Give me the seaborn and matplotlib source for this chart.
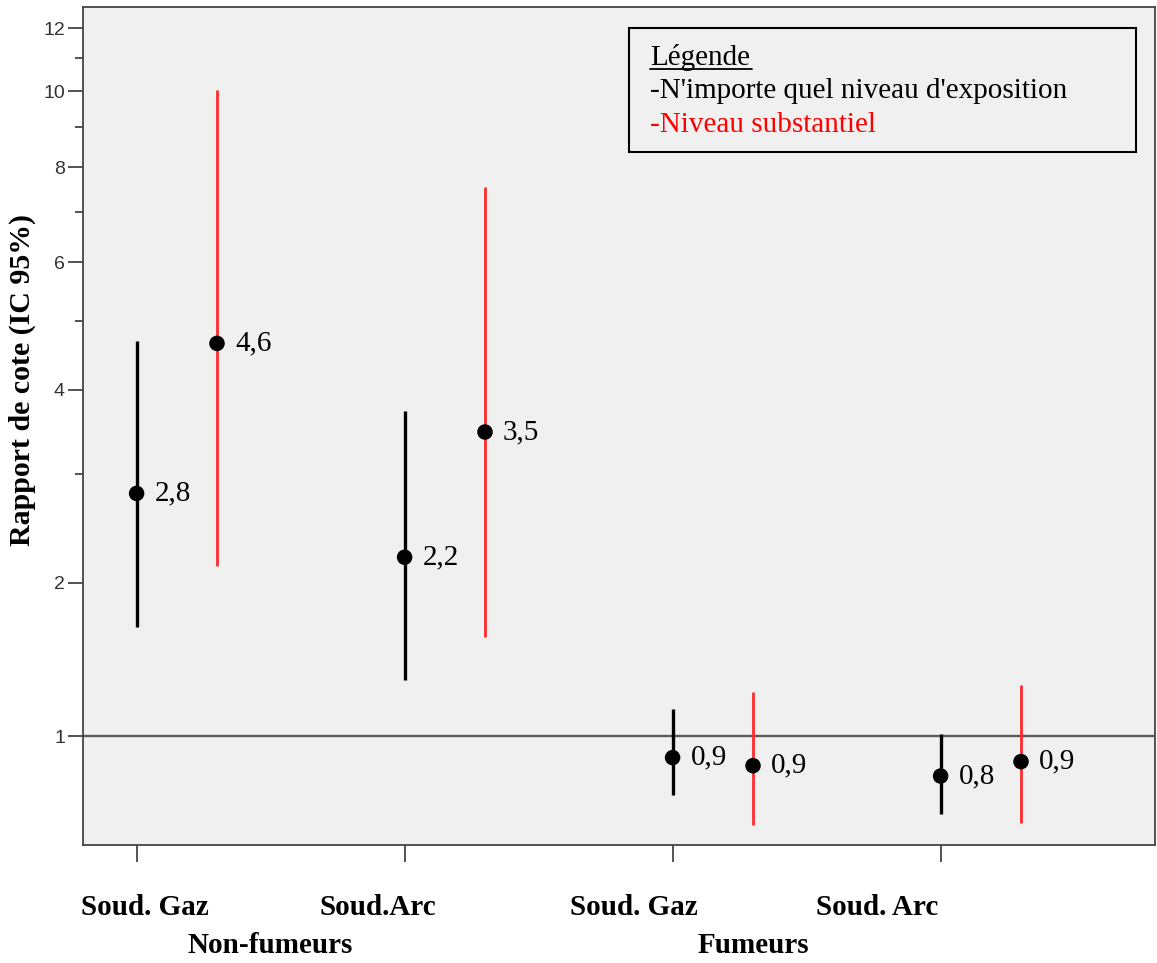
import numpy as np
import pandas as pd
import matplotlib
matplotlib.use("Agg")
import matplotlib.pyplot as plt
from matplotlib.patches import Rectangle
import seaborn as sns

# ---- data ----
categories = ["Soud. Gaz", "Soud.Arc", "Soud. Gaz", "Soud. Arc"]
groups = ["Non-fumeurs", "Fumeurs"]
levels = ["-N'importe quel niveau d'exposition", "-Niveau substantiel"]

or_any = [2.80, 2.21, 0.89, 0.80]
lo_any = [1.67, 1.32, 0.71, 0.63]
hi_any = [4.68, 3.73, 1.15, 1.01]
lab_any = ["2,8", "2,2", "0,9", "0,8"]

or_sub = [4.65, 3.47, 0.85, 0.87]
lo_sub = [2.14, 1.60, 0.58, 0.59]
hi_sub = [10.05, 7.54, 1.25, 1.29]
lab_sub = ["4,6", "3,5", "0,9", "0,9"]

major_ticks = [1, 2, 4, 6, 8, 10, 12]
minor_ticks = [3, 5, 7, 9, 11]

# ---- table ----
rows = []
for i in range(len(categories)):
    rows.append(dict(idx=i, level=levels[0], odds=or_any[i], lo=lo_any[i], hi=hi_any[i], lab=lab_any[i]))
    rows.append(dict(idx=i, level=levels[1], odds=or_sub[i], lo=lo_sub[i], hi=hi_sub[i], lab=lab_sub[i]))
df = pd.DataFrame(rows)
offset = {levels[0]: 0.0, levels[1]: 0.30}
df["x"] = df["idx"] + df["level"].map(offset)
line_col = {levels[0]: "black", levels[1]: "#ff2b2b"}
line_w = {levels[0]: 2.4, levels[1]: 2.0}

# ---- style ----
sns.set_theme(style="white")
plt.rcParams["font.family"] = ["Liberation Serif", "DejaVu Serif"]
plt.rcParams["text.color"] = "black"
serif = ["Liberation Serif", "DejaVu Serif"]
sans = ["Liberation Sans", "DejaVu Sans"]
FS = 21

fig = plt.figure(figsize=(11.57, 9.63), dpi=100)
ax = fig.add_axes([83 / 1157, 1 - 845 / 963, 1072 / 1157, 838 / 963])
ax.set_facecolor("#f0f0f0")

# log(x+1) axis like the original
ax.set_yscale("function", functions=(lambda y: np.log(np.clip(y + 1, 1e-9, None)),
                                     lambda t: np.exp(t) - 1))
ax.set_ylim(0.5, 12.75)
ax.set_xlim(-0.2, 3.8)

# reference line at 1
ax.axhline(1, color="#5a5a5a", lw=1.7, zorder=1)

# confidence intervals
for lev in levels:
    d = df[df["level"] == lev]
    ax.vlines(d["x"], d["lo"], d["hi"], colors=line_col[lev], lw=line_w[lev], zorder=2)

# point estimates
sns.scatterplot(data=df, x="x", y="odds", color="black", s=125, edgecolor="none",
                ax=ax, zorder=3, legend=False)

for _, r in df.iterrows():
    ax.annotate(r["lab"], (r["x"], r["odds"]), xytext=(18, 0), textcoords="offset pixels",
                ha="left", va="center", fontsize=FS, family=serif, color="black")

# axes / ticks
ax.set_yticks(major_ticks)
ax.set_yticklabels([str(t) for t in major_ticks], family=sans, fontsize=14, color="#333333")
ax.set_yticks(minor_ticks, minor=True)
ax.set_xticks(range(len(categories)))
ax.set_xticklabels([])
ax.tick_params(axis="y", which="major", direction="out", length=11, width=1.3, color="#444444", left=True, pad=2)
ax.tick_params(axis="y", which="minor", direction="out", length=6, width=1.3, color="#444444", left=True)
ax.tick_params(axis="x", direction="out", length=12, width=1.3, color="#444444", bottom=True)
for s in ax.spines.values():
    s.set_color("#444444")
    s.set_linewidth(1.3)
ax.set_xlabel("")
ax.set_ylabel("")

# category and group labels
xt = ax.get_xaxis_transform()
cat_x = [0.03, 0.90, 1.855, 2.765]
for x, c in zip(cat_x, categories):
    ax.text(x, -0.074, c, transform=xt, ha="center", va="center", fontsize=FS,
            fontweight="bold", family=serif, color="black", clip_on=False)
for x, g in zip([0.50, 2.30], groups):
    ax.text(x, -0.1205, g, transform=xt, ha="center", va="center", fontsize=FS,
            fontweight="bold", family=serif, color="black", clip_on=False)

fig.text(22 / 1157, 1 - 380 / 963, "Rapport de cote (IC 95%)", rotation=90, ha="center",
         va="center", fontsize=21.5, fontweight="bold", family=serif, color="black")

# hand-made legend box
ax.add_patch(Rectangle((0.5093, 0.827), 0.473, 0.148, transform=ax.transAxes,
                       facecolor="none", edgecolor="black", lw=1.5, zorder=4))
ax.text(0.5289, 0.9308, "Légende", transform=ax.transAxes, ha="left", va="baseline",
        fontsize=FS, family=serif, color="black")
ax.plot([0.5289, 0.624], [0.926, 0.926], transform=ax.transAxes, color="black", lw=1.3)
ax.text(0.5289, 0.8914, levels[0], transform=ax.transAxes, ha="left", va="baseline",
        fontsize=FS, family=serif, color="black")
ax.text(0.5289, 0.8508, levels[1], transform=ax.transAxes, ha="left", va="baseline",
        fontsize=FS, family=serif, color="red")

fig.savefig("out.png", dpi=100, facecolor="white")
